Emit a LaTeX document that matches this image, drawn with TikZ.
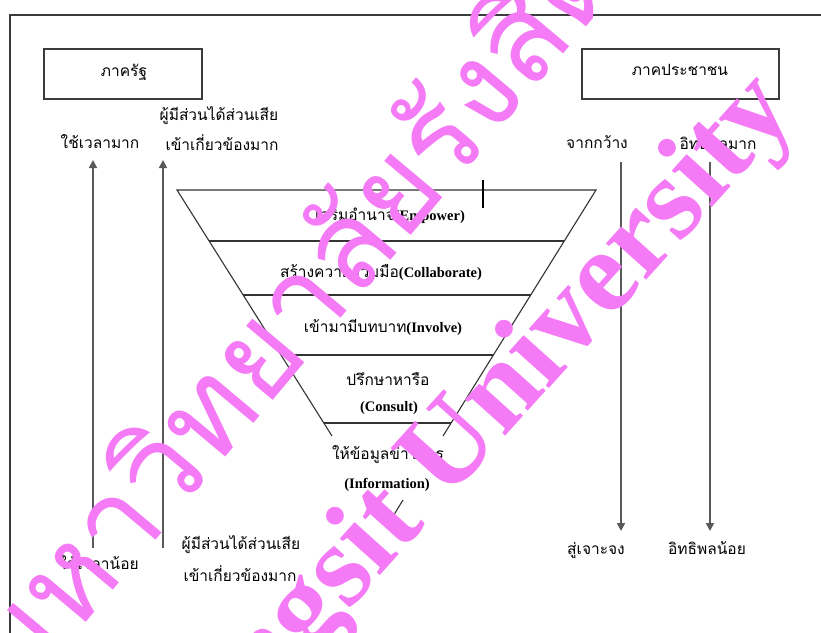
\documentclass[tikz,border=0pt]{standalone}
\usepackage{fontspec}
\usetikzlibrary{arrows.meta,calc}
\newfontfamily\thaifont[Script=Thai]{Loma}
\newfontfamily\enfont{Liberation Serif}
\definecolor{wm}{RGB}{245,122,245}
\definecolor{ln}{RGB}{60,60,60}
\tikzset{
  lbl/.style={font=\thaifont\fontsize{15.5}{18}\selectfont, text=black, inner sep=0pt},
  boxnode/.style={draw=ln, line width=1.4pt, minimum width=#1, minimum height=50pt, inner sep=0pt},
  arr/.style={draw=black!65, line width=1.6pt, -{Triangle[length=8pt,width=8pt]}},
  fun/.style={draw=black!80, line width=1.1pt},
  wmark/.style={text=wm, inner sep=0pt, anchor=base}
}
\newcommand\engl[1]{{\enfont\bfseries\fontsize{14.5}{16}\selectfont #1}}
\begin{document}
\begin{tikzpicture}[x=1pt,y=-1pt]
\useasboundingbox (0,0) rectangle (821,632);
\clip (0,0) rectangle (821,632);
\fill[white] (0,0) rectangle (821,632);
% frame
\coordinate (fa) at (10,640);
\coordinate (fb) at (10,15);
\coordinate (fc) at (830,15);
\draw[draw=ln, line width=1.4pt] (fa) -- (fb) -- (fc);
% boxes
\node[boxnode=158pt] (gov) at (123,74) {};
\node[lbl] (govt) at (124,72) {ภาครัฐ};
\node[boxnode=197pt] (ppl) at (680.5,74) {};
\node[lbl] (pplt) at (680,70) {ภาคประชาชน};
% left labels
\node[lbl] (tmore) at (100,142) {ใช้เวลามาก};
\node[lbl] (sh1) at (219,116) {ผู้มีส่วนได้ส่วนเสีย};
\node[lbl] (sh2) at (222,143) {เข้าเกี่ยวข้องมาก};
\node[lbl] (tless) at (99,563) {ใช้เวลาน้อย};
\node[lbl] (sh3) at (241,545) {ผู้มีส่วนได้ส่วนเสีย};
\node[lbl] (sh4) at (240,574) {เข้าเกี่ยวข้องมาก};
% right labels
\node[lbl] (wide) at (597,142) {จากกว้าง};
\node[lbl] (infm) at (718,143) {อิทธิพลมาก};
\node[lbl] (spec) at (596,551) {สู่เจาะจง};
\node[lbl] (infl) at (707,548) {อิทธิพลน้อย};
% arrows
\coordinate (a1s) at (93,548); \coordinate (a1e) at (93,160);
\coordinate (a2s) at (163,548); \coordinate (a2e) at (163,160);
\coordinate (a3s) at (621,162); \coordinate (a3e) at (621,531);
\coordinate (a4s) at (710,162); \coordinate (a4e) at (710,531);
\draw[arr] (a1s) -- (a1e);
\draw[arr] (a2s) -- (a2e);
\draw[arr] (a3s) -- (a3e);
\draw[arr] (a4s) -- (a4e);
% funnel
\coordinate (tl) at (177,190); \coordinate (tr) at (596,190);
\coordinate (bl) at (332,436); \coordinate (br) at (443,436);
\draw[fun] (bl) -- (tl) -- (tr) -- (br);
\foreach \t in {0.2073,0.4268,0.6707,0.9472}
  \draw[fun] ($(tl)!\t!(bl)$) -- ($(tr)!\t!(br)$);
\coordinate (tk1) at (483,180); \coordinate (tk2) at (483,208);
\draw[black, line width=2.6pt] (tk1) -- (tk2);
\coordinate (v1) at (368,498); \coordinate (v2) at (387,526); \coordinate (v3) at (403,500);
\draw[black!80, line width=1.1pt] (v1) -- (v2) -- (v3);
% funnel texts
\node[lbl] (l1) at (390,216) {เสริมอำนาจ\engl{(Empower)}};
\node[lbl] (l2) at (381,273) {สร้างความร่วมมือ\engl{(Collaborate)}};
\node[lbl] (l3) at (383,327) {เข้ามามีบทบาท\engl{(Involve)}};
\node[lbl] (l4) at (388,379) {ปรึกษาหารือ};
\node[lbl] (l4e) at (389,408) {\engl{(Consult)}};
\node[lbl] (l5) at (388,455) {ให้ข้อมูลข่าวสาร};
\node[lbl] (l5e) at (387,485) {\engl{(Information)}};
% watermark
\node[wmark, rotate=50, font=\thaifont\fontsize{122}{125}\selectfont] (wm1) at (325,338) {มหาวิทยาลัยรังสิต};
\node[wmark, rotate=48, font=\enfont\bfseries\fontsize{118}{125}\selectfont] (wm2) at (483,462) {Rangsit University};
\end{tikzpicture}
\end{document}
